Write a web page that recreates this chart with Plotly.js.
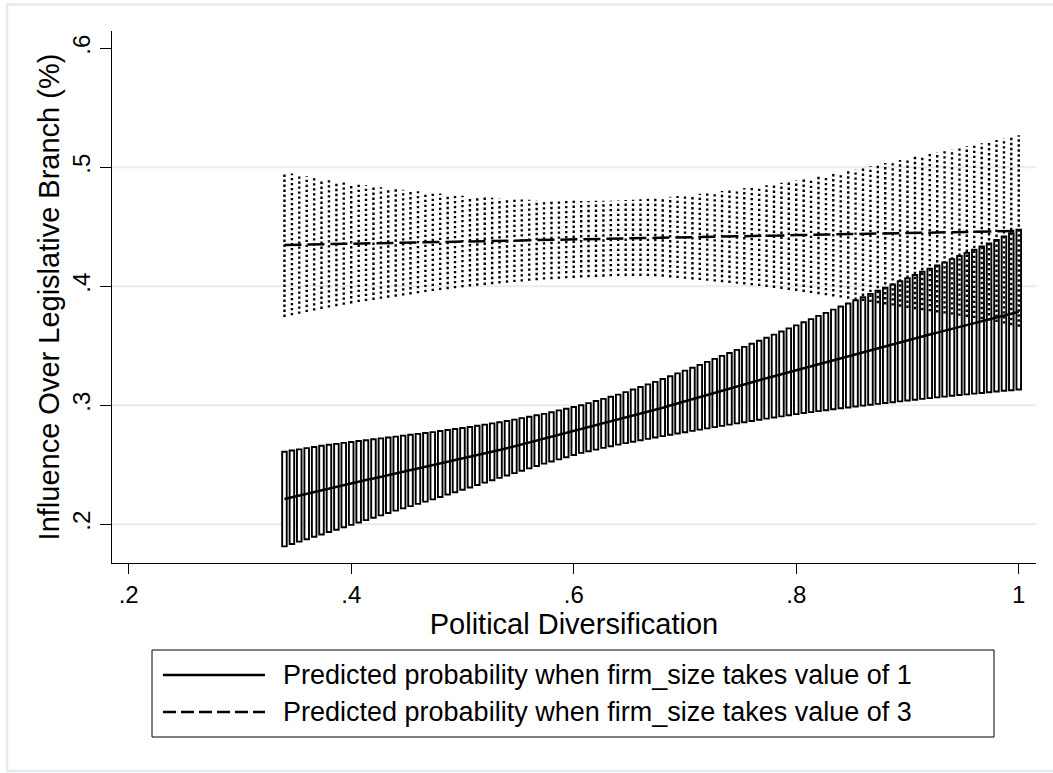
<!DOCTYPE html>
<html>
<head>
<meta charset="utf-8">
<script src="https://cdn.plot.ly/plotly-3.0.1.min.js"></script>
<style>
html,body{margin:0;padding:0;background:#fff;}
#chart{width:1053px;height:773px;}
</style>
</head>
<body>
<div id="chart"></div>
<script>
// Political diversification values (x)
const xVals = [
0.3400,0.3467,0.3533,0.3600,0.3667,0.3733,0.3800,0.3867,0.3933,0.4000,
0.4067,0.4133,0.4200,0.4267,0.4333,0.4400,0.4467,0.4533,0.4600,0.4667,
0.4733,0.4800,0.4867,0.4933,0.5000,0.5067,0.5133,0.5200,0.5267,0.5333,
0.5400,0.5467,0.5533,0.5600,0.5667,0.5733,0.5800,0.5867,0.5933,0.6000,
0.6067,0.6133,0.6200,0.6267,0.6333,0.6400,0.6467,0.6533,0.6600,0.6667,
0.6733,0.6800,0.6867,0.6933,0.7000,0.7067,0.7133,0.7200,0.7267,0.7333,
0.7400,0.7467,0.7533,0.7600,0.7667,0.7733,0.7800,0.7867,0.7933,0.8000,
0.8067,0.8133,0.8200,0.8267,0.8333,0.8400,0.8467,0.8533,0.8600,0.8667,
0.8733,0.8800,0.8867,0.8933,0.9000,0.9067,0.9133,0.9200,0.9267,0.9333,
0.9400,0.9467,0.9533,0.9600,0.9667,0.9733,0.9800,0.9867,0.9933,1.0000];

// firm_size = 1 : predicted probability and 95% CI
const mean1 = [
.2213,.2228,.2243,.2258,.2273,.2288,.2302,.2316,.2330,.2344,
.2358,.2372,.2385,.2399,.2412,.2426,.2439,.2452,.2466,.2479,
.2492,.2506,.2521,.2535,.2550,.2564,.2579,.2594,.2609,.2624,
.2639,.2655,.2671,.2687,.2703,.2719,.2735,.2751,.2768,.2784,
.2800,.2816,.2832,.2848,.2864,.2880,.2897,.2913,.2930,.2946,
.2963,.2980,.2998,.3015,.3033,.3050,.3068,.3086,.3103,.3121,
.3139,.3157,.3175,.3192,.3210,.3228,.3245,.3262,.3279,.3296,
.3313,.3330,.3347,.3364,.3381,.3398,.3415,.3432,.3448,.3465,
.3482,.3498,.3514,.3531,.3547,.3563,.3579,.3595,.3611,.3627,
.3643,.3659,.3675,.3690,.3706,.3722,.3738,.3754,.3769,.3785];
const lo1 = [
.1815,.1835,.1855,.1875,.1895,.1915,.1935,.1955,.1975,.1995,
.2015,.2035,.2055,.2075,.2095,.2115,.2134,.2153,.2172,.2191,
.2210,.2230,.2250,.2270,.2290,.2310,.2330,.2350,.2370,.2390,
.2410,.2430,.2450,.2470,.2490,.2510,.2528,.2546,.2564,.2582,
.2600,.2614,.2628,.2642,.2656,.2670,.2682,.2694,.2706,.2718,
.2730,.2741,.2752,.2763,.2774,.2785,.2796,.2806,.2817,.2827,
.2838,.2848,.2858,.2868,.2878,.2888,.2897,.2907,.2916,.2926,
.2935,.2943,.2951,.2959,.2967,.2975,.2982,.2990,.2997,.3005,
.3012,.3019,.3026,.3033,.3040,.3047,.3054,.3060,.3067,.3073,
.3080,.3086,.3092,.3098,.3104,.3110,.3116,.3122,.3127,.3133];
const hi1 = [
.2610,.2620,.2630,.2640,.2650,.2660,.2668,.2676,.2684,.2692,
.2700,.2707,.2715,.2722,.2730,.2737,.2745,.2752,.2760,.2767,
.2775,.2784,.2792,.2801,.2809,.2818,.2828,.2838,.2848,.2858,
.2868,.2880,.2892,.2904,.2916,.2928,.2942,.2957,.2971,.2986,
.3000,.3018,.3036,.3054,.3072,.3090,.3111,.3133,.3154,.3176,
.3197,.3221,.3244,.3268,.3291,.3315,.3340,.3365,.3390,.3415,
.3440,.3466,.3491,.3517,.3542,.3568,.3594,.3620,.3646,.3672,
.3698,.3724,.3751,.3777,.3804,.3830,.3856,.3883,.3909,.3936,
.3962,.3989,.4015,.4042,.4068,.4095,.4122,.4148,.4175,.4201,
.4228,.4254,.4281,.4307,.4334,.4360,.4389,.4418,.4447,.4476];

// firm_size = 3 : predicted probability and 95% CI
const mean3 = [
.4347,.4348,.4349,.4351,.4352,.4353,.4354,.4355,.4357,.4358,
.4359,.4360,.4361,.4363,.4364,.4365,.4366,.4367,.4368,.4370,
.4371,.4372,.4373,.4374,.4376,.4377,.4378,.4379,.4380,.4382,
.4383,.4384,.4385,.4386,.4388,.4389,.4390,.4391,.4392,.4394,
.4395,.4396,.4397,.4398,.4400,.4401,.4402,.4403,.4404,.4406,
.4407,.4408,.4409,.4410,.4412,.4413,.4414,.4415,.4416,.4418,
.4419,.4420,.4421,.4422,.4424,.4425,.4426,.4427,.4428,.4430,
.4431,.4432,.4433,.4434,.4436,.4437,.4438,.4439,.4440,.4442,
.4443,.4444,.4445,.4446,.4448,.4449,.4450,.4451,.4452,.4454,
.4455,.4456,.4457,.4458,.4460,.4461,.4462,.4463,.4464,.4465];
const lo3 = [
.3742,.3756,.3769,.3783,.3796,.3810,.3821,.3833,.3844,.3856,
.3867,.3876,.3885,.3895,.3904,.3913,.3922,.3932,.3941,.3951,
.3960,.3968,.3976,.3983,.3991,.3999,.4005,.4011,.4018,.4024,
.4030,.4035,.4040,.4046,.4051,.4056,.4060,.4063,.4067,.4070,
.4074,.4076,.4079,.4081,.4084,.4086,.4087,.4087,.4087,.4086,
.4085,.4080,.4074,.4069,.4063,.4058,.4052,.4046,.4040,.4034,
.4028,.4021,.4015,.4008,.4002,.3995,.3986,.3978,.3969,.3961,
.3952,.3943,.3933,.3924,.3914,.3905,.3896,.3886,.3877,.3867,
.3858,.3848,.3838,.3828,.3818,.3808,.3799,.3790,.3780,.3771,
.3762,.3752,.3742,.3733,.3723,.3713,.3700,.3687,.3673,.3660];
const hi3 = [
.4960,.4948,.4936,.4924,.4912,.4900,.4891,.4882,.4873,.4864,
.4855,.4848,.4840,.4833,.4825,.4818,.4811,.4805,.4798,.4792,
.4785,.4779,.4773,.4767,.4761,.4755,.4751,.4747,.4743,.4739,
.4735,.4732,.4730,.4727,.4725,.4722,.4721,.4720,.4719,.4718,
.4717,.4717,.4718,.4718,.4719,.4720,.4724,.4728,.4732,.4736,
.4740,.4746,.4752,.4758,.4764,.4770,.4778,.4785,.4793,.4800,
.4808,.4816,.4825,.4833,.4842,.4850,.4860,.4869,.4879,.4888,
.4898,.4909,.4921,.4932,.4944,.4955,.4968,.4982,.4995,.5009,
.5022,.5035,.5048,.5062,.5075,.5088,.5101,.5114,.5126,.5139,
.5152,.5165,.5177,.5190,.5202,.5215,.5229,.5243,.5256,.5270];

// axis ticks and labels
const xTickVals = [0.2, 0.4, 0.6, 0.8, 1.0];
const xTickText = ['.2', '.4', '.6', '.8', '1'];
const yTickVals = [0.2, 0.3, 0.4, 0.5, 0.6];
const yTickText = ['.2', '.3', '.4', '.5', '.6'];
const gridVals = [0.2, 0.3, 0.4, 0.5];
const xTitle = 'Political Diversification';
const yTitle = 'Influence Over Legislative Branch (%)';
const legendLabels = [
  'Predicted probability when firm_size takes value of 1',
  'Predicted probability when firm_size takes value of 3'
];

// ---- build traces ----
const FONT = 'Liberation Sans, Arial, Helvetica, sans-serif';

const barTrace = {
  type: 'bar',
  name: legendLabels[0] + ' (95% CI)',
  x: xVals,
  base: lo1,
  y: hi1.map((h, i) => h - lo1[i]),
  width: 0.0041,
  marker: {color: '#ffffff', line: {color: '#000000', width: 1.9}},
  hoverinfo: 'skip',
  showlegend: false
};

const spikeX = [], spikeY = [];
xVals.forEach((x, i) => { spikeX.push(x, x, null); spikeY.push(lo3[i], hi3[i], null); });
const spikeTrace = {
  type: 'scatter', mode: 'lines',
  name: legendLabels[1] + ' (95% CI)',
  x: spikeX, y: spikeY,
  line: {color: '#000000', width: 2.4, dash: '2.4px,2.6px'},
  hoverinfo: 'skip', showlegend: false
};

const line1 = {
  type: 'scatter', mode: 'lines', name: legendLabels[0],
  x: xVals, y: mean1,
  line: {color: '#000000', width: 2.5},
  showlegend: false
};
const line3 = {
  type: 'scatter', mode: 'lines', name: legendLabels[1],
  x: xVals, y: mean3,
  line: {color: '#000000', width: 2.5, dash: '17px,6px'},
  showlegend: false
};

// plot-area geometry (px) used to place the custom legend box
const L = 112, R = 17, T = 31, B = 210, W = 1053, H = 773;
const PW = W - L - R, PH = H - T - B;
const px2x = p => (p - L) / PW;
const px2y = p => (H - B - p) / PH;

const shapes = [];
// outer frame
shapes.push({type: 'rect', xref: 'paper', yref: 'paper',
  x0: px2x(7), x1: px2x(1075), y0: px2y(771), y1: px2y(4.5),
  line: {color: '#e3ebef', width: 2.5}, layer: 'below'});
// horizontal grid lines
gridVals.forEach(v => shapes.push({type: 'line', xref: 'paper', yref: 'y',
  x0: 0, x1: 1, y0: v, y1: v, line: {color: '#e4edf0', width: 2}, layer: 'below'}));
// legend box
shapes.push({type: 'rect', xref: 'paper', yref: 'paper',
  x0: px2x(152), x1: px2x(994), y0: px2y(737), y1: px2y(650),
  line: {color: '#000000', width: 1}, fillcolor: 'rgba(0,0,0,0)'});
// legend keys
shapes.push({type: 'line', xref: 'paper', yref: 'paper',
  x0: px2x(163), x1: px2x(265), y0: px2y(675), y1: px2y(675),
  line: {color: '#000000', width: 2.5}});
shapes.push({type: 'line', xref: 'paper', yref: 'paper',
  x0: px2x(163), x1: px2x(265), y0: px2y(712), y1: px2y(712),
  line: {color: '#000000', width: 2.5, dash: '13px,5px'}});

const annotations = legendLabels.map((t, i) => ({
  xref: 'paper', yref: 'paper', x: px2x(281), y: px2y(i === 0 ? 675 : 712),
  xanchor: 'left', yanchor: 'middle', showarrow: false, text: t,
  font: {family: FONT, size: 27, color: '#000000'}
}));

const layout = {
  width: W, height: H,
  margin: {l: L, r: R, t: T, b: B, pad: 0},
  paper_bgcolor: '#ffffff', plot_bgcolor: '#ffffff',
  font: {family: FONT, color: '#000000'},
  showlegend: false,
  bargap: 0,
  xaxis: {
    range: [0.185, 1.0155], tickmode: 'array', tickvals: xTickVals, ticktext: xTickText,
    ticks: 'outside', ticklen: 10, tickwidth: 1, tickcolor: '#000000',
    showline: true, linecolor: '#000000', linewidth: 1, mirror: false,
    showgrid: false, zeroline: false,
    tickfont: {family: FONT, size: 24, color: '#000000'},
    title: {text: xTitle, font: {family: FONT, size: 29, color: '#000000'}, standoff: 4}
  },
  yaxis: {
    range: [0.1675, 0.6145], tickmode: 'array', tickvals: yTickVals, ticktext: yTickText,
    tickangle: -90,
    ticks: 'outside', ticklen: 11, tickwidth: 1, tickcolor: '#000000',
    showline: true, linecolor: '#000000', linewidth: 1, mirror: false,
    showgrid: false, zeroline: false,
    tickfont: {family: FONT, size: 24, color: '#000000'},
    title: {text: yTitle, font: {family: FONT, size: 29, color: '#000000'}, standoff: 0}
  },
  shapes: shapes,
  annotations: annotations
};

Plotly.newPlot('chart', [barTrace, spikeTrace, line1, line3], layout, {displayModeBar: false, staticPlot: true});
</script>
</body>
</html>
